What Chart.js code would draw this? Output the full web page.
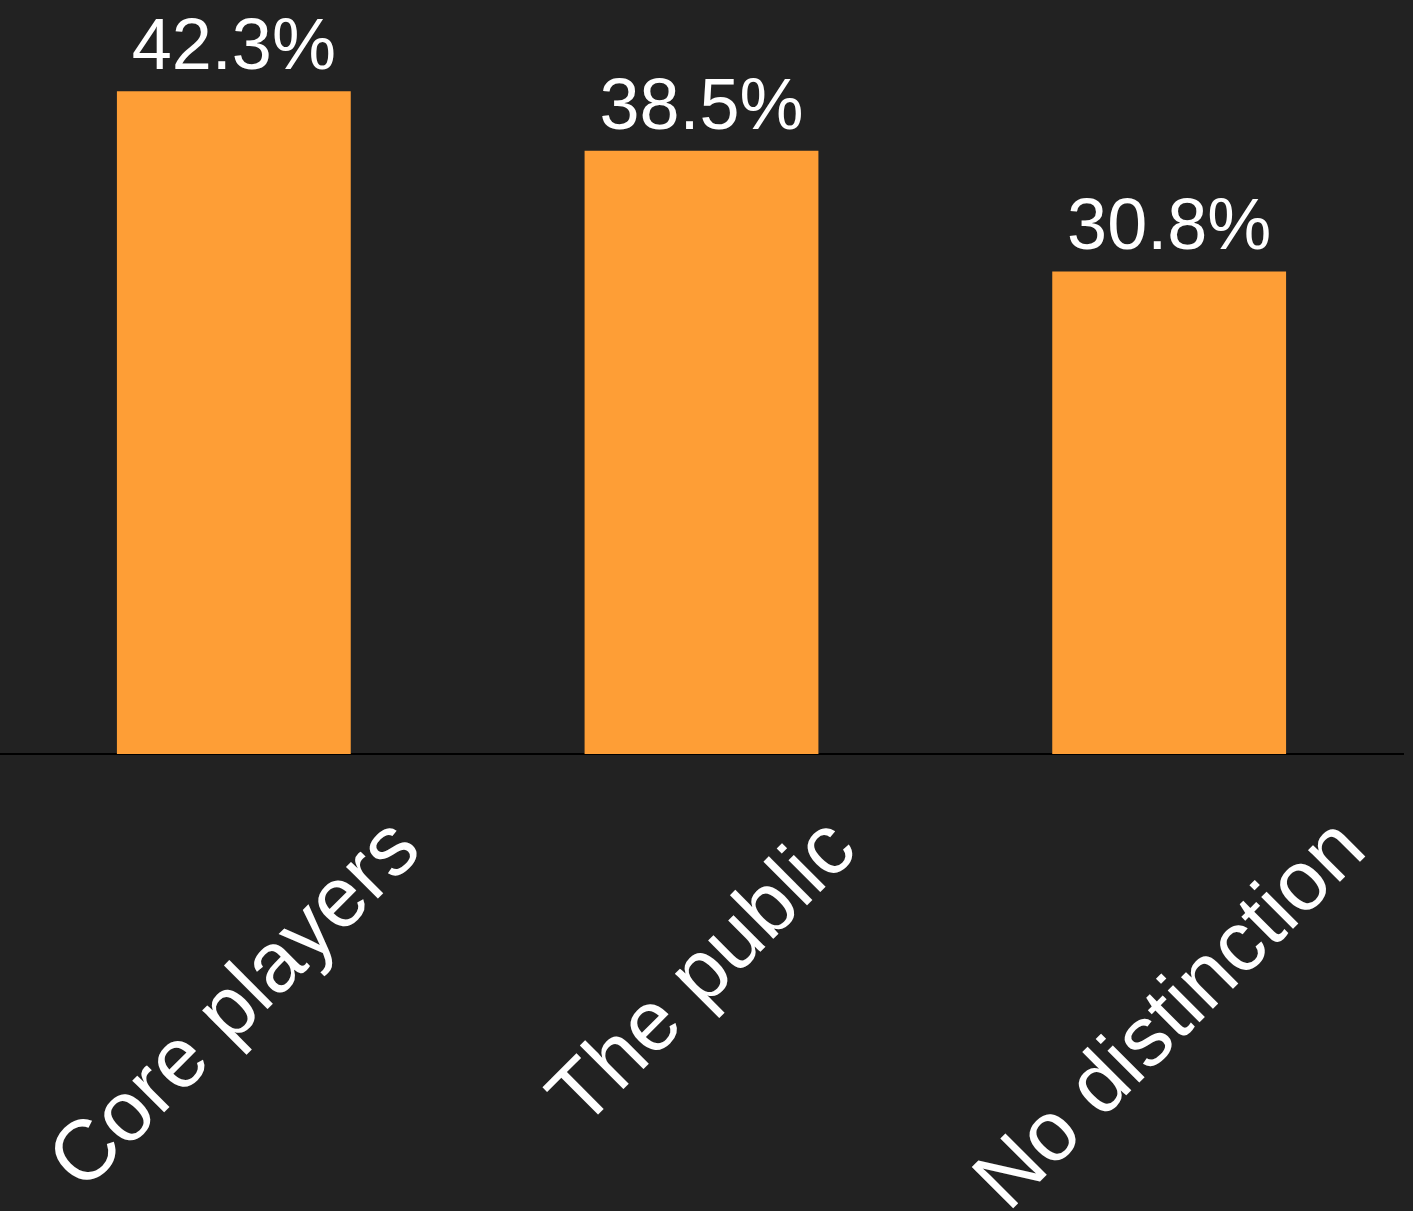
<!DOCTYPE html>
<html>
<head>
<meta charset="utf-8">
<script src="https://cdn.jsdelivr.net/npm/chart.js@4"></script>
<style>
    html, body { margin: 0; padding: 0; background: #222222; }
    #wrap { width: 1413px; height: 1211px; position: relative; }
</style>
</head>
<body>
<div id="wrap"><canvas id="shareChart"></canvas></div>
<script>
// values
const categories = ['Core players', 'The public', 'No distinction'];
const shares = [42.3, 38.5, 30.8];
const shareLabels = ['42.3%', '38.5%', '30.8%'];

const barColor = '#fe9e36';
const textColor = '#ffffff';
const fontFamily = '"Liberation Sans", Arial, Helvetica, sans-serif';

// dark background behind everything
const backgroundPlugin = {
    id: 'background',
    beforeDraw(chart) {
        const ctx = chart.ctx;
        ctx.save();
        ctx.fillStyle = '#222222';
        ctx.fillRect(0, 0, chart.width, chart.height);
        ctx.restore();
    }
};

// percentage text above each bar
const valueLabelPlugin = {
    id: 'valueLabels',
    afterDatasetsDraw(chart) {
        const ctx = chart.ctx;
        const meta = chart.getDatasetMeta(0);
        ctx.save();
        ctx.fillStyle = textColor;
        ctx.font = '72px ' + fontFamily;
        ctx.textAlign = 'center';
        ctx.textBaseline = 'alphabetic';
        meta.data.forEach((bar, i) => {
            ctx.fillText(shareLabels[i], bar.x, bar.y - 22);
        });
        ctx.restore();
    }
};

// category names rotated 45 degrees, centred under the tick
const categoryLabelPlugin = {
    id: 'categoryLabels',
    afterDraw(chart) {
        const ctx = chart.ctx;
        const xScale = chart.scales.x;
        const top = chart.chartArea.bottom + 82;
        ctx.save();
        ctx.fillStyle = textColor;
        ctx.font = '85px ' + fontFamily;
        ctx.textAlign = 'center';
        ctx.textBaseline = 'middle';
        categories.forEach((name, i) => {
            const w = ctx.measureText(name).width;
            const cx = xScale.getPixelForTick(i) + 3;
            const cy = top + w * Math.SQRT1_2 / 2;
            ctx.save();
            ctx.translate(cx, cy);
            ctx.rotate(-Math.PI / 4);
            ctx.fillText(name, 0, 0);
            ctx.restore();
        });
        ctx.restore();
    }
};

const ctx = document.getElementById('shareChart').getContext('2d');
const myChart = new Chart(ctx, {
    type: 'bar',
    data: {
        labels: categories,
        datasets: [{
            data: shares,
            backgroundColor: barColor,
            borderWidth: 0,
            barPercentage: 0.5,
            categoryPercentage: 1.0
        }]
    },
    options: {
        responsive: true,
        maintainAspectRatio: false,
        animation: false,
        layout: {
            padding: { top: 2, right: 10, bottom: 457, left: 0 }
        },
        plugins: {
            legend: { display: false },
            tooltip: { enabled: false }
        },
        scales: {
            x: {
                grid: { display: false, drawTicks: false },
                border: { display: true, color: '#000000', width: 2 },
                ticks: { display: false }
            },
            y: {
                display: false,
                min: 0,
                max: 48
            }
        }
    },
    plugins: [backgroundPlugin, valueLabelPlugin, categoryLabelPlugin]
});
</script>
</body>
</html>
